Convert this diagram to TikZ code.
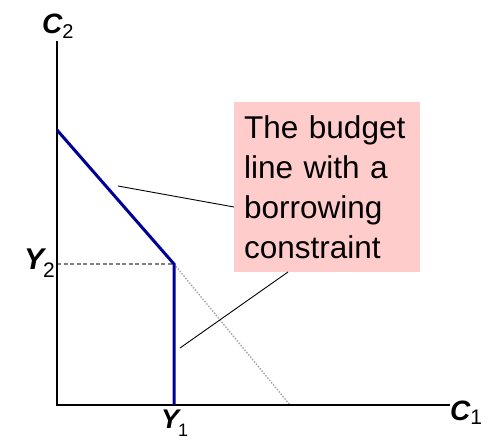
\documentclass[tikz,border=0pt]{standalone}
\usepackage{fontspec}
\setmainfont{Liberation Sans}
\definecolor{budgetblue}{RGB}{0,0,153}
\definecolor{notepink}{RGB}{255,204,204}

\begin{document}
\begin{tikzpicture}[
    x=1pt,
    y=-1pt,
    axis/.style={
        draw=black,
        line width=2.4pt
    },
    budget/.style={
        draw=budgetblue,
        line width=3pt
    },
    guide/.style={
        draw=gray,
        line width=1.5pt,
        dash pattern=on 4pt off 2.5pt
    },
    ghost/.style={
        draw=gray!70,
        line width=1.4pt,
        dash pattern=on 1.5pt off 1.5pt
    },
    pointer/.style={
        draw=black,
        line width=0.9pt
    },
    axlabel/.style={
        inner sep=0pt,
        anchor=base west
    },
    note/.style={
        fill=notepink,
        draw=none,
        anchor=north west,
        text width=166pt,
        minimum height=170pt,
        inner xsep=10pt,
        inner ysep=0pt,
        align=left,
        font=\fontsize{31.5}{40}\selectfont
    }
]

    \useasboundingbox (0,0) rectangle (487,440);

    % ==========================================
    % COORDINATES
    % ==========================================

    \coordinate (Origin) at (57,405);
    \coordinate (TopEnd) at (57,41);
    \coordinate (RightEnd) at (450,405);
    \coordinate (Intercept) at (57,130);
    \coordinate (Kink) at (174,264);
    \coordinate (KinkFoot) at (174,405);
    \coordinate (GhostEnd) at (290,405);
    \coordinate (PtrA) at (118,186);
    \coordinate (PtrB) at (180,348);
    \coordinate (TipA) at (234,207);
    \coordinate (TipB) at (288,272);

    % ==========================================
    % NODES PLACEMENT
    % ==========================================

    % Callout box
    \node[note] (Note) at (234,102) {The budget\\line with a\\borrowing\\constraint};

    % Axis labels
    \node[axlabel] (LabelC2) at (42,33) {\fontsize{28}{28}\selectfont\bfseries\itshape C\raisebox{-5pt}{\fontsize{20}{20}\selectfont\mdseries\upshape 2}};
    \node[axlabel] (LabelC1) at (450,420) {\fontsize{28}{28}\selectfont\bfseries\itshape C\raisebox{-4pt}{\fontsize{21}{21}\selectfont\mdseries\upshape 1}};
    \node[axlabel] (LabelY2) at (24,269) {\fontsize{30}{30}\selectfont\bfseries\itshape Y\kern-1pt\raisebox{-8pt}{\fontsize{21}{21}\selectfont\mdseries\upshape 2}};
    \node[axlabel] (LabelY1) at (161,428) {\fontsize{27}{27}\selectfont\bfseries\itshape Y\kern-1pt\raisebox{-8pt}{\fontsize{18}{18}\selectfont\mdseries\upshape 1}};

    % ==========================================
    % CONNECTIONS
    % ==========================================

    % Guides
    \draw[guide] (Intercept |- Kink) -- (Kink);
    \draw[ghost] (Kink) -- (GhostEnd);

    % Axes
    \draw[axis] (TopEnd) -- (Origin) -- (RightEnd);

    % Budget line with the constraint
    \draw[budget] (Intercept) -- (Kink) -- (KinkFoot);

    % Callout pointers
    \draw[pointer] (PtrA) -- (TipA);
    \draw[pointer] (PtrB) -- (TipB);

\end{tikzpicture}
\end{document}
